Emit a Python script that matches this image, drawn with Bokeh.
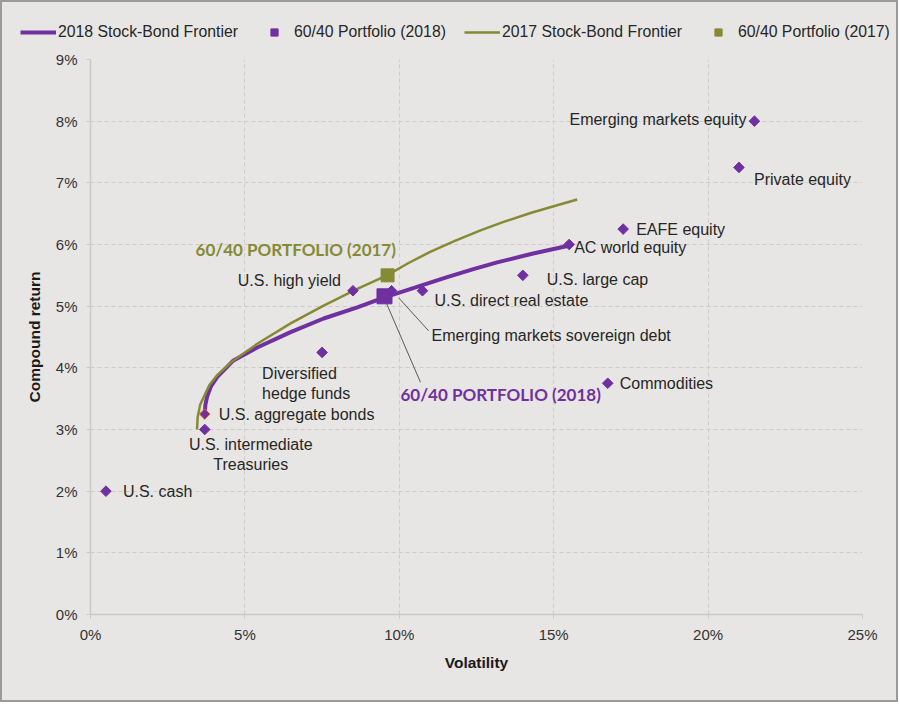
from bokeh.plotting import figure
from bokeh.layouts import column
from bokeh.models import (ColumnDataSource, Legend, LegendItem, SingleIntervalTicker,
                          PrintfTickFormatter)
from bokeh.core.properties import value
from bokeh.embed import file_html
from bokeh.resources import INLINE

NAN = float("nan")

# ---------------- data (percent units) ----------------
asset_names = ["U.S. cash", "U.S. intermediate\nTreasuries", "U.S. aggregate bonds",
               "Diversified\nhedge funds", "U.S. high yield", "Emerging markets sovereign debt",
               "U.S. direct real estate", "U.S. large cap", "AC world equity", "EAFE equity",
               "Private equity", "Emerging markets equity", "Commodities"]
asset_vol = [0.5, 3.7, 3.7, 7.5, 8.5, 9.75, 10.75, 14.0, 15.5, 17.25, 21.0, 21.5, 16.75]
asset_ret = [2.0, 3.0, 3.25, 4.25, 5.25, 5.25, 5.25, 5.5, 6.0, 6.25, 7.25, 8.0, 3.75]

frontier_2018_vol = [3.7, 3.72, 3.78, 3.9, 4.1, 4.63, 5.4, 6.48, 7.55, 8.64, 9.5, 10.5, 11.55, 12.4, 13.17, 14.3, 15.48]
frontier_2018_ret = [3.25, 3.4, 3.54, 3.7, 3.85, 4.12, 4.33, 4.58, 4.8, 4.98, 5.14, 5.3, 5.47, 5.6, 5.71, 5.85, 5.98]

frontier_2017_vol = [3.45, 3.47, 3.55, 3.66, 3.85, 4.1, 4.63, 5.4, 6.48, 7.55, 8.64, 9.6, 10.3, 11.0, 11.8, 12.63, 13.4, 14.25, 15.0, 15.76]
frontier_2017_ret = [3.0, 3.2, 3.4, 3.52, 3.72, 3.88, 4.12, 4.39, 4.72, 5.01, 5.28, 5.5, 5.7, 5.88, 6.06, 6.23, 6.37, 6.51, 6.62, 6.73]

portfolio_2018 = (9.52, 5.16)
portfolio_2017 = (9.62, 5.5)

legend_labels = ["2018 Stock-Bond Frontier", "60/40 Portfolio (2018)",
                 "2017 Stock-Bond Frontier", "60/40 Portfolio (2017)"]
portfolio_labels = ["60/40 PORTFOLIO (2018)", "60/40 PORTFOLIO (2017)"]

x_ticks_step = 5
y_ticks_step = 1

# ---------------- styles ----------------
PURPLE = "#7030A0"
OLIVE = "#858A33"
BG = "#E7E6E4"
TEXT = "#262626"
FONT = "Liberation Sans"

# label offsets in screen px (dx, dy down), alignment
label_dx = [17, 46, 14, -60, -12, 40, 12, 24, 5, 13, 15, -8, 12]
label_dy = [0, 25, 0, 31, -10, 45, 10, 4, 3, 0, 12, -2, 0]
label_align = ["left", "center", "left", "left", "right", "left", "left", "left", "left",
               "left", "left", "right", "left"]
outline_colors = [PURPLE, PURPLE, "#E46C0A"] + [PURPLE] * 10

W = 894
LH = 40
H = 658
ML, MR, MT, MB = 88, 34, 17, 86
FW, FH = W - ML - MR, H - MT - MB
XPX = FW / 25.0
YPX = FH / 9.0

p = figure(width=W, height=H, x_range=(0, 25), y_range=(0, 9),
           output_backend="svg", toolbar_location=None,
           min_border_left=ML, min_border_right=MR, min_border_top=MT, min_border_bottom=MB)
p.frame_align = False
p.background_fill_color = BG
p.border_fill_color = BG
p.outline_line_color = None

p.xaxis.ticker = SingleIntervalTicker(interval=x_ticks_step)
p.yaxis.ticker = SingleIntervalTicker(interval=y_ticks_step)
p.xaxis.formatter = PrintfTickFormatter(format="%d%%")
p.yaxis.formatter = PrintfTickFormatter(format="%d%%")
for ax in (p.xaxis, p.yaxis):
    ax.axis_line_color = "#C9C9C9"
    ax.axis_line_width = 1.5
    ax.major_tick_line_color = "#C9C9C9"
    ax.major_tick_out = 4
    ax.major_tick_in = 0
    ax.minor_tick_line_color = None
    ax.major_label_text_font = FONT
    ax.major_label_text_font_size = "15px"
    ax.major_label_text_color = "#333333"
    ax.axis_label_text_font = FONT
    ax.axis_label_text_font_size = "15.5px"
    ax.axis_label_text_font_style = "bold"
    ax.axis_label_text_color = "#1a1a1a"
p.xaxis.axis_label = "Volatility"
p.yaxis.axis_label = "Compound return"
p.xaxis.major_label_standoff = 7
p.yaxis.major_label_standoff = 9
p.xaxis.axis_label_standoff = 8
p.yaxis.axis_label_standoff = 10

p.grid.grid_line_color = "#CBCBCB"
p.grid.grid_line_dash = "4 3"
p.grid.grid_line_width = 1

# frontiers
p.line(frontier_2018_vol, frontier_2018_ret, line_color=PURPLE, line_width=4)
p.line(frontier_2017_vol, frontier_2017_ret, line_color=OLIVE, line_width=2.5)

# leader lines (from point, screen offsets)
def off(pt, dx, dy):
    return pt[0] + dx / XPX, pt[1] - dy / YPX

em = (asset_vol[5], asset_ret[5])
a0, a1 = off(em, 7, 7), off(em, 37, 40)
b0, b1 = off(portfolio_2018, 2, 7), off(portfolio_2018, 36, 86)
p.segment(x0=[a0[0], b0[0]], y0=[a0[1], b0[1]], x1=[a1[0], b1[0]], y1=[a1[1], b1[1]],
          line_color="#595959", line_width=1)

# assets
src = ColumnDataSource(dict(x=asset_vol, y=asset_ret, name=asset_names, dx=label_dx,
                            dy=label_dy, align=label_align, lc=outline_colors))
p.scatter("x", "y", source=src, marker="square", size=7.5, angle=45, angle_units="deg",
          fill_color=PURPLE, line_color="lc", line_width=1)
p.text("x", "y", text="name", source=src, x_offset="dx", y_offset="dy", text_align="align",
       text_baseline="middle", text_font=value(FONT), text_font_size="16px",
       text_color=TEXT, text_line_height=1.15)

# portfolios
p.scatter([portfolio_2018[0]], [portfolio_2018[1]], marker="square", size=15,
          fill_color=PURPLE, line_color=PURPLE)
p.scatter([portfolio_2017[0]], [portfolio_2017[1]], marker="square", size=13,
          fill_color=OLIVE, line_color=OLIVE)

p.text([portfolio_2017[0]], [portfolio_2017[1]], text=[portfolio_labels[1]],
       x_offset=-192, y_offset=-26, text_align="left", text_baseline="middle",
       text_font=value("Lato"), text_font_style="bold", text_font_size="17px", text_color=OLIVE)
p.text([portfolio_2018[0]], [portfolio_2018[1]], text=[portfolio_labels[0]],
       x_offset=16, y_offset=98, text_align="left", text_baseline="middle",
       text_font=value("Lato"), text_font_style="bold", text_font_size="17px", text_color=PURPLE)

# ---------------- legend strip ----------------
lf = figure(width=W, height=LH, x_range=(0, 1), y_range=(0, 1), output_backend="svg",
            toolbar_location=None, x_axis_type=None, y_axis_type=None,
            min_border_left=0, min_border_right=0, min_border_top=0, min_border_bottom=0)
lf.frame_align = False
lf.background_fill_color = BG
lf.border_fill_color = BG
lf.outline_line_color = None
lf.grid.visible = False
l18 = lf.line([NAN], [NAN], line_color=PURPLE, line_width=4)
q18 = lf.scatter([NAN], [NAN], marker="square", size=15, fill_color=PURPLE, line_color=PURPLE)
l17 = lf.line([NAN], [NAN], line_color=OLIVE, line_width=2.5)
q17 = lf.scatter([NAN], [NAN], marker="square", size=13, fill_color=OLIVE, line_color=OLIVE)

legend = Legend(items=[LegendItem(label=lab, renderers=[r]) for lab, r in
                       zip(legend_labels, [l18, q18, l17, q17])],
                orientation="horizontal", location=(18, 0))
legend.padding = 0
legend.margin = 0
legend.spacing = 18
legend.glyph_width = 36
legend.glyph_height = 18
legend.label_height = 20
legend.label_standoff = 2
legend.label_text_font = FONT
legend.label_text_font_size = "15.8px"
legend.label_text_color = TEXT
legend.background_fill_alpha = 0
legend.border_line_alpha = 0
lf.add_layout(legend, "center")

layout = column(lf, p, spacing=0)
layout.styles = {"border": "2px solid #9a9a9a", "background-color": BG}

open("out.html", "w").write(file_html(layout, INLINE))
